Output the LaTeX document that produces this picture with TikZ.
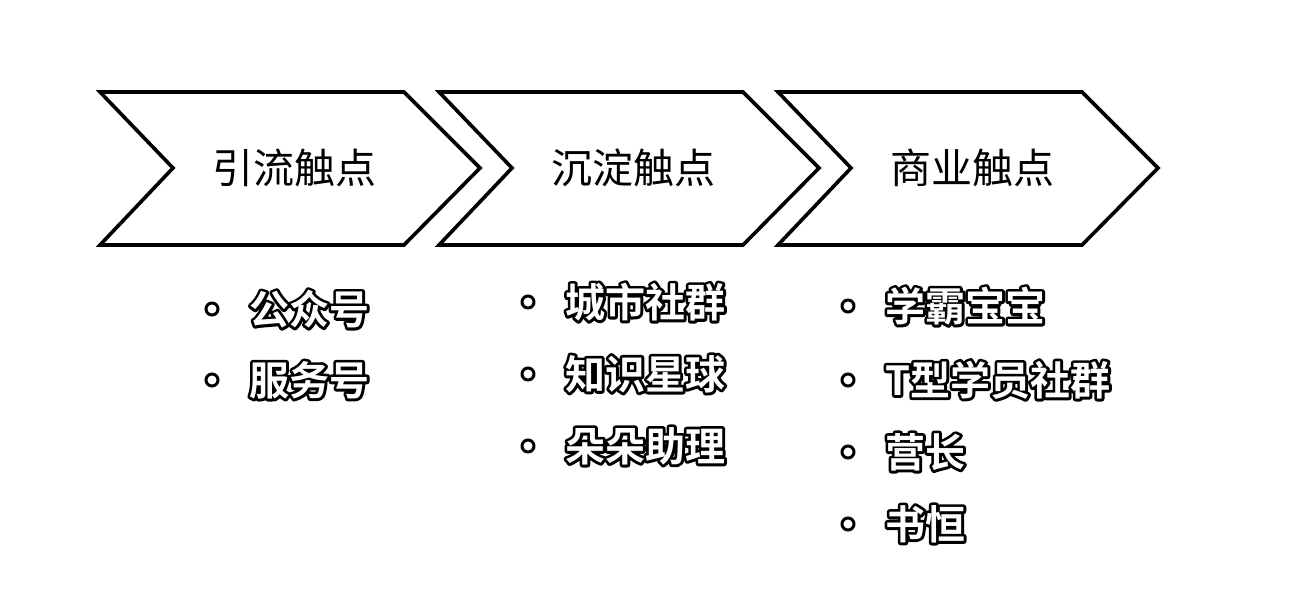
\documentclass[tikz,border=0pt]{standalone}
\usepackage{fontspec}
\newfontfamily\cjk[BoldFont={Noto Sans CJK SC Bold}]{Noto Sans CJK SC}
\newcommand{\outl}[1]{\rlap{\textcolor{black}{\special{pdf:literal direct 0 G 2 Tr 5.5 w 1 j}#1\special{pdf:literal direct 0 Tr}}}\textcolor{white}{#1}}
\begin{document}
\begin{tikzpicture}[x=1pt,y=-1pt,
  chev/.style={draw=black,line width=3.6pt,fill=white,line join=miter},
  title/.style={font=\cjk\fontsize{41}{44}\selectfont,text=black,inner sep=0pt},
  item/.style={font=\cjk\bfseries\fontsize{40}{44}\selectfont,anchor=west,inner sep=0pt},
  dot/.style={circle,draw=black,line width=3pt,minimum size=12pt,inner sep=0pt}]
\useasboundingbox (0,0) rectangle (1296,600);
\fill[white] (0,0) rectangle (1296,600);
% chevrons
\foreach \x in {100,439,778}{
  \draw[chev] (\x,92) -- (\x+304,92) -- (\x+380,168) -- (\x+304,245) -- (\x,245) -- (\x+73,168) -- cycle;
}
\node[title] (t1) at (294,168) {引流触点};
\node[title] (t2) at (633,168) {沉淀触点};
\node[title] (t3) at (972,168) {商业触点};
% lists
\node[dot] (b11) at (212,309) {};
\node[item] (i11) at (249,309) {\outl{公众号}};
\node[dot] (b12) at (212,380) {};
\node[item] (i12) at (249,380) {\outl{服务号}};
\node[dot] (b21) at (528,302) {};
\node[item] (i21) at (565,302) {\outl{城市社群}};
\node[dot] (b22) at (528,374) {};
\node[item] (i22) at (565,374) {\outl{知识星球}};
\node[dot] (b23) at (528,446) {};
\node[item] (i23) at (565,446) {\outl{朵朵助理}};
\node[dot] (b31) at (848,306) {};
\node[item] (i31) at (885,306) {\outl{学霸宝宝}};
\node[dot] (b32) at (848,380) {};
\node[item] (i32) at (885,380) {\outl{T型学员社群}};
\node[dot] (b33) at (848,452) {};
\node[item] (i33) at (885,452) {\outl{营长}};
\node[dot] (b34) at (848,524) {};
\node[item] (i34) at (885,524) {\outl{书恒}};
\end{tikzpicture}
\end{document}
